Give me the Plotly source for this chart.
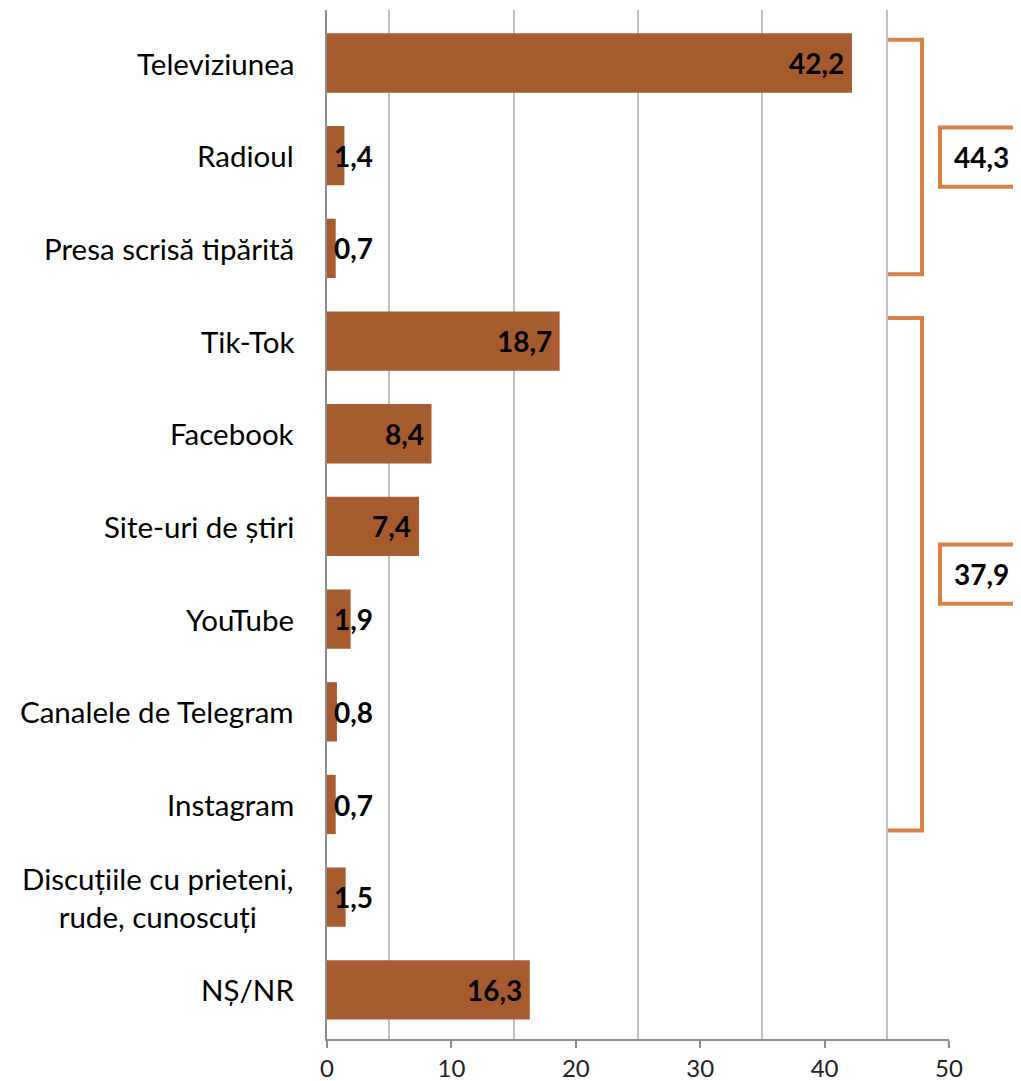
import plotly.graph_objects as go

categories = ["Televiziunea", "Radioul", "Presa scrisă tipărită", "Tik-Tok", "Facebook",
              "Site-uri de știri", "YouTube", "Canalele de Telegram", "Instagram",
              "Discuțiile cu prieteni,<br>rude, cunoscuți", "NȘ/NR"]
values = [42.2, 1.4, 0.7, 18.7, 8.4, 7.4, 1.9, 0.8, 0.7, 1.5, 16.3]
x_ticks = [0, 10, 20, 30, 40, 50]
grid_vals = [5, 15, 25, 35, 45]
groups = [(0, 2), (3, 8)]  # inclusive index ranges: traditional media, online

BAR = "#A65C2E"
BRK = "#D8804A"
FONT = "Lato"

# page body has an 8px margin; compensate
OFF = 8
W, H = 1021 - OFF, 1081 - OFF
ML, MR, MT = 327 - OFF, 72, 10 - OFF
MB = H - (1039 - OFF)

fig = go.Figure()
idx = list(range(len(categories)))
fig.add_trace(go.Bar(y=idx, x=values, orientation="h", marker=dict(color=BAR, line=dict(width=0)),
                     width=0.64, hoverinfo="skip"))

def fmt(v):
    return f"{v:.1f}".replace(".", ",")

ann = []
for i, (c, v) in enumerate(zip(categories, values)):
    if v >= 5:
        ann.append(dict(x=v, y=i, xref="x", yref="y", text=f"<b>{fmt(v)}</b>", showarrow=False,
                        xanchor="right", xshift=-6, font=dict(family=FONT, size=28, color="black")))
    else:
        ann.append(dict(x=0, y=i, xref="x", yref="y", text=f"<b>{fmt(v)}</b>", showarrow=False,
                        xanchor="left", xshift=5, font=dict(family=FONT, size=28, color="black")))
    ann.append(dict(x=0, y=i, xref="paper", yref="y", text=c, showarrow=False, xanchor="right",
                    align="center", xshift=-31, font=dict(family=FONT, size=29.5, color="black")))

shapes = []
pw = W - ML - MR
def px2paper(px):
    return (px - OFF - ML) / pw

bx0, bx1 = px2paper(888), px2paper(922)
for (a, b) in groups:
    y0, y1 = a - 0.25, b + 0.28
    total = sum(values[a:b + 1])
    shapes.append(dict(type="path", xref="paper", yref="y",
                       path=f"M {bx0},{y0} L {bx1},{y0} L {bx1},{y1} L {bx0},{y1}",
                       line=dict(color=BRK, width=4)))
    yc = (y0 + y1) / 2
    shapes.append(dict(type="rect", xref="paper", yref="y", x0=px2paper(940), x1=px2paper(1040),
                       y0=yc - 0.32, y1=yc + 0.32, line=dict(color=BRK, width=4), fillcolor="white"))
    ann.append(dict(x=px2paper(952), y=yc, xref="paper", yref="y", text=f"<b>{fmt(total)}</b>",
                    showarrow=False, xanchor="left", font=dict(family=FONT, size=28, color="black")))

fig.update_layout(
    width=W, height=H, margin=dict(l=ML, r=MR, t=MT, b=MB, autoexpand=False),
    paper_bgcolor="white", plot_bgcolor="white", showlegend=False,
    font=dict(family=FONT, color="black"),
    annotations=ann, shapes=shapes, bargap=0.36,
)
fig.update_xaxes(range=[0, 50], tickvals=x_ticks, ticktext=[str(t) for t in x_ticks], automargin=False,
                 showgrid=False, zeroline=False, showline=True, linecolor="#8C8C8C", linewidth=2,
                 ticks="outside", ticklen=7, tickwidth=2, tickcolor="#8C8C8C",
                 tickfont=dict(family=FONT, size=24, color="#222"),
                 minor=dict(tickvals=grid_vals, showgrid=True, gridcolor="#C0C0C0", gridwidth=2, ticklen=0))
fig.update_yaxes(range=[10.53, -0.572], showticklabels=False, showgrid=False, zeroline=False,
                 automargin=False, showline=True, linecolor="#8C8C8C", linewidth=2, ticks="")

fig.write_html("out.html")
